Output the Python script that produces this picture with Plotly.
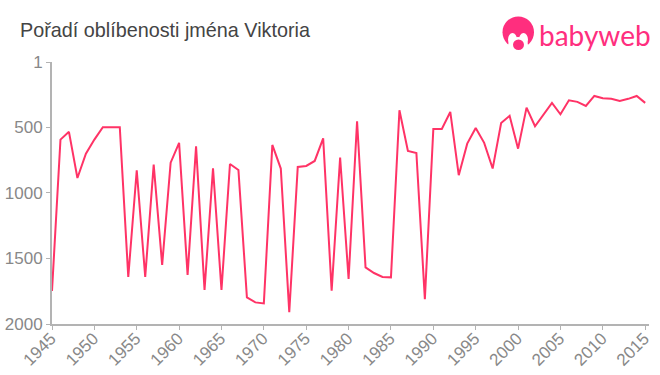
import plotly.graph_objects as go

years = list(range(1945, 2016))
ranks = [1748, 593, 534, 886, 700, 593, 499, 499, 499, 1641,
         827, 1641, 784, 1550, 769, 618, 1626, 644, 1741, 812,
         1741, 779, 825, 1797, 1835, 1843, 634, 814, 1909, 802,
         794, 756, 583, 1746, 730, 1657, 453, 1568, 1611, 1641,
         1644, 369, 680, 695, 1810, 512, 512, 382, 865, 624,
         504, 618, 814, 466, 412, 662, 349, 491, 400, 313,
         400, 293, 305, 336, 260, 277, 282, 298, 282, 260, 313]
x_ticks = list(range(1945, 2016, 5))
y_ticks = [1, 500, 1000, 1500, 2000]
title = "Pořadí oblíbenosti jména Viktoria"
logo_text = "babyweb"
PINK = "#ff3366"
LOGO = "#ff2e7e"
GREY = "#888888"
AXIS = "#b3b3b3"
FONT = "Liberation Sans, Arial, sans-serif"

W, H = 660, 375
L, R, T, B = 52, 11, 62, 51
def px(x): return (x - L) / (W - L - R)
def py(y): return (H - B - y) / (H - T - B)

fig = go.Figure(go.Scatter(x=years, y=ranks, mode="lines", line=dict(color=PINK, width=2), hoverinfo="skip"))

def circ(x0, y0, x1, y1, c):
    return dict(type="circle", xref="paper", yref="paper", x0=px(x0), x1=px(x1), y0=py(y1), y1=py(y0),
                fillcolor=c, line_width=0, layer="above")

shapes = [
    circ(502.5, 16.5, 534, 48, LOGO),
    circ(508, 33, 517, 46, "#ffffff"),
    circ(519, 33, 528, 46, "#ffffff"),
    circ(508, 37, 528, 53, "#ffffff"),
    circ(513, 39.5, 524, 50, LOGO),
]
annotations = [
    dict(text=title, xref="paper", yref="paper", x=px(18), y=py(30), xanchor="left", yanchor="middle",
         showarrow=False, font=dict(family=FONT, size=19.8, color="#444444")),
    dict(text=logo_text, xref="paper", yref="paper", x=px(537), y=py(35), xanchor="left", yanchor="middle",
         showarrow=False, font=dict(family="Lato, sans-serif", size=28, color=LOGO)),
]

fig.update_layout(
    width=W, height=H, autosize=False,
    margin=dict(l=L, r=R, t=T, b=B, pad=0, autoexpand=False),
    paper_bgcolor="white", plot_bgcolor="white",
    showlegend=False, shapes=shapes, annotations=annotations,
    xaxis=dict(range=[1945, 2015.45], tickmode="array", tickvals=x_ticks, ticktext=[str(v) for v in x_ticks],
               tickangle=-45, ticks="outside", ticklen=4, tickwidth=1, tickcolor=AXIS,
               showline=True, linecolor=AXIS, linewidth=2, showgrid=False, zeroline=False, automargin=False,
               ticklabelstandoff=-8, ticklabelshift=-1,
               tickfont=dict(family=FONT, size=17, color=GREY)),
    yaxis=dict(range=[2000, 1], tickmode="array", tickvals=y_ticks, ticktext=[str(v) for v in y_ticks],
               ticks="outside", ticklen=4, tickwidth=1, tickcolor=AXIS,
               showline=True, linecolor=AXIS, linewidth=2, showgrid=False, zeroline=False, automargin=False,
               tickfont=dict(family=FONT, size=17, color=GREY)),
)
fig.write_html("out.html", config=dict(displayModeBar=False),
               post_script="document.body.style.margin='0';document.body.style.overflow='hidden';")
